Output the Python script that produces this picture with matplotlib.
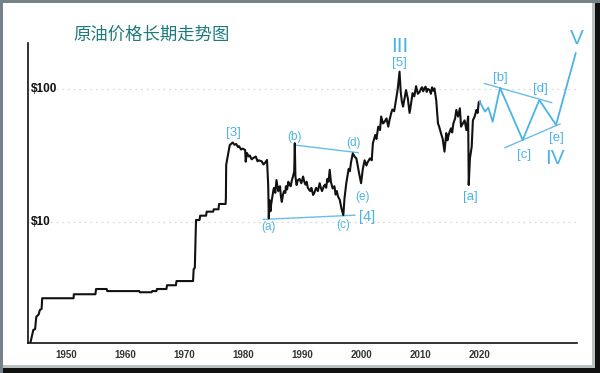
import matplotlib
matplotlib.use("Agg")
import matplotlib.pyplot as plt
from matplotlib.patches import Rectangle
import numpy as np

# ---------------- data ----------------
price_years = [1944.0, 1944.5, 1944.8, 1945.0, 1945.4, 1945.6, 1945.9, 1946.0, 1951.3, 1951.35,
               1955.0, 1955.1, 1956.9, 1957.0, 1962.4, 1962.5, 1964.5, 1964.6, 1965.3, 1965.4,
               1967.0, 1967.1, 1968.6, 1968.7, 1971.5, 1971.6, 1971.8, 1972.0, 1972.6, 1972.7,
               1973.7, 1973.8, 1974.9, 1975.0, 1975.8, 1975.9, 1977.0, 1977.05, 1977.1, 1977.7,
               1978.2, 1978.5, 1978.8, 1979.1, 1979.3, 1979.6, 1979.9, 1980.3, 1980.4, 1980.6,
               1980.9, 1981.1, 1981.4, 1981.6, 1982.1, 1982.4, 1982.6, 1983.1, 1983.4, 1983.6,
               1984.0, 1984.2, 1984.3, 1984.45, 1984.6, 1984.7, 1984.9, 1985.1, 1985.2, 1985.4,
               1985.6, 1985.9, 1986.0, 1986.2, 1986.35, 1986.5, 1986.7, 1986.9, 1987.1, 1987.2,
               1987.4, 1987.6, 1987.8, 1988.0, 1988.2, 1988.4, 1988.6, 1988.7, 1988.8, 1989.0,
               1989.2, 1989.5, 1989.8, 1990.1, 1990.3, 1990.5, 1990.7, 1990.9, 1991.1, 1991.3,
               1991.5, 1991.8, 1992.0, 1992.3, 1992.6, 1992.9, 1993.1, 1993.3, 1993.6, 1993.8,
               1994.0, 1994.2, 1994.4, 1994.6, 1994.8, 1995.1, 1995.4, 1995.6, 1995.8, 1996.0,
               1996.3, 1996.6, 1996.9, 1997.1, 1997.4, 1997.6, 1997.8, 1998.0, 1998.2, 1998.5,
               1998.8, 1999.1, 1999.3, 1999.5, 1999.9, 2000.2, 2000.5, 2000.8, 2001.0, 2001.4,
               2001.7, 2001.9, 2002.3, 2002.5, 2002.8, 2003.1, 2003.3, 2003.6, 2003.8, 2004.2,
               2004.5, 2004.7, 2005.0, 2005.2, 2005.5, 2005.8, 2006.1, 2006.4, 2006.6, 2006.8,
               2007.0, 2007.5, 2007.8, 2008.1, 2008.4, 2008.6, 2008.9, 2009.2, 2009.5, 2009.8,
               2010.0, 2010.2, 2010.4, 2010.6, 2010.8, 2011.0, 2011.2, 2011.5, 2011.7, 2011.9,
               2012.1, 2012.3, 2012.6, 2012.9, 2013.1, 2013.4, 2013.7, 2014.0, 2014.3, 2014.5,
               2014.7, 2014.9, 2015.1, 2015.3, 2015.5, 2015.8, 2016.0, 2016.3, 2016.6, 2016.8,
               2017.1, 2017.4, 2017.7, 2018.0, 2018.1, 2018.3, 2018.6, 2018.8, 2019.1, 2019.4,
               2019.6, 2019.8, 2019.95]
price_values = [1.22, 1.53, 1.55, 1.92, 2.0, 2.16, 2.2, 2.65, 2.65, 2.84,
                2.84, 3.11, 3.11, 3.0, 3.0, 2.94, 2.94, 3.0, 3.0, 3.11,
                3.11, 3.32, 3.32, 3.57, 3.57, 4.38, 4.5, 10.3, 10.3, 11.1,
                11.1, 11.9, 11.9, 12.4, 12.4, 13.6, 13.6, 15.1, 26.8, 37.8,
                39.5, 38.0, 38.5, 36.5, 37.0, 35.0, 35.5, 34.7, 28.3, 33.0,
                31.0, 31.5, 29.5, 30.0, 31.0, 28.5, 29.0, 28.5, 27.0, 27.5,
                29.2, 19.0, 10.6, 14.5, 12.0, 13.5, 15.4, 17.5, 18.0, 16.5,
                20.6, 17.0, 18.0, 18.5, 15.5, 14.1, 16.0, 17.0, 16.5, 18.5,
                17.5, 20.0, 19.0, 18.5, 20.5, 22.0, 24.0, 39.0, 22.0, 18.9,
                20.5, 21.0, 19.5, 21.9, 20.0, 19.0, 20.0, 18.0, 17.5, 17.0,
                18.0, 15.9, 16.5, 18.0, 17.0, 19.5, 18.0, 17.0, 18.5, 19.0,
                18.0, 21.0, 20.0, 24.6, 20.0, 17.8, 18.5, 16.0, 17.0, 15.5,
                14.6, 12.5, 11.2, 15.0, 19.5, 22.0, 25.0, 24.0, 28.0, 32.7,
                31.0, 30.0, 27.0, 24.0, 19.5, 25.0, 29.0, 26.5, 28.0, 30.0,
                29.0, 39.0, 45.0, 42.0, 52.0, 49.0, 62.0, 55.0, 56.0, 60.0,
                52.0, 58.0, 66.0, 70.0, 68.0, 82.6, 100.0, 135.0, 95.0, 80.0,
                73.6, 98.0, 85.0, 66.0, 80.0, 93.0, 88.0, 105.0, 92.0, 95.0,
                100.0, 103.0, 96.0, 101.0, 104.0, 95.0, 100.0, 98.0, 92.0, 103.0,
                97.0, 101.0, 82.6, 55.0, 52.0, 46.5, 42.0, 33.7, 46.5, 41.0,
                45.0, 48.0, 50.5, 47.0, 55.0, 60.0, 69.5, 62.0, 71.5, 52.0,
                55.0, 58.0, 49.0, 62.0, 18.9, 30.0, 36.7, 58.0, 62.0, 69.5,
                66.0, 80.0, 80.2]

# projected wave path
proj_years = [2019.95, 2020.85, 2021.41, 2022.15, 2023.39, 2027.22, 2030.03, 2032.85, 2036.18]
proj_values = [80.2, 67.5, 72.3, 56.7, 102.0, 41.3, 82.6, 53.6, 186.0]

# trend lines (start/end)
trend_years = [[1988.72, 1999.42], [1983.37, 1998.87], [2020.73, 2032.12], [2024.23, 2033.53]]
trend_values = [[37.8, 33.1], [10.4, 11.2], [110.0, 78.9], [36.1, 54.5]]

# wave labels
small_labels = ["[3]", "(b)", "(d)", "(e)", "(a)", "(c)", "[4]", "[5]", "[a]", "[b]", "[d]", "[c]", "[e]"]
small_years = [1978.29, 1988.72, 1998.58, 2000.17, 1984.21, 1996.89, 2000.85, 2006.36, 2018.31,
               2023.5, 2030.15, 2027.5, 2032.85]
small_values = [46.4, 43.7, 39.0, 15.4, 9.17, 9.44, 10.8, 156.0, 15.4, 122.0, 99.5, 31.8, 42.5]
small_sizes = [9.5, 8.5, 8.5, 8.5, 8.5, 8.5, 10.5, 9.5, 9.5, 9.5, 9.5, 9.5, 9.5]
big_labels = ["III", "IV", "V"]
big_years = [2006.36, 2032.68, 2036.35]
big_values = [208.0, 30.1, 241.0]

x_ticks = [1950, 1960, 1970, 1980, 1990, 2000, 2010, 2020]
y_levels = [10, 100]
y_level_labels = ["$10", "$100"]
title = "原油价格长期走势图"

# ---------------- figure ----------------
W, H = 600, 373
fig = plt.figure(figsize=(W / 100, H / 100), dpi=100)
fig.patch.set_facecolor("#738387")


def px_rect(x0, y0, x1, y1, color):
    r = Rectangle((x0 / W, 1 - y1 / H), (x1 - x0) / W, (y1 - y0) / H,
                  transform=fig.transFigure, facecolor=color, edgecolor="none", zorder=0)
    fig.add_artist(r)


px_rect(595, 3, 600, 373, "#111111")
px_rect(3, 368, 600, 373, "#111111")
px_rect(3, 3, 595, 368, "#b9c1c3")
px_rect(3, 3, 592, 365, "white")

ax = fig.add_axes([28 / W, 1 - 343 / H, 549 / W, 300 / H])
ax.set_facecolor("none")
ax.set_yscale("log")
ax.set_xlim(1943.6, 2036.4)
ax.set_ylim(1.219, 222)

for s in ["top", "right"]:
    ax.spines[s].set_visible(False)
ax.spines["left"].set_linewidth(1.2)
ax.spines["bottom"].set_linewidth(1.2)
ax.spines["left"].set_color("#111111")
ax.spines["bottom"].set_color("#111111")

ax.set_yticks([])
ax.yaxis.set_minor_locator(matplotlib.ticker.NullLocator())
ax.set_xticks(x_ticks)
ax.set_xticklabels([str(t) for t in x_ticks], fontsize=7, fontweight="bold",
                   color="#333333", family="Liberation Sans")
ax.tick_params(axis="x", length=0, pad=5)

for lv, lb in zip(y_levels, y_level_labels):
    ax.axhline(lv, color="#dadada", lw=0.9, ls=(0, (1.5, 3)), zorder=1)
    ax.text(0.006, lv, lb, transform=ax.get_yaxis_transform(), ha="left", va="center",
            fontsize=8.5, fontweight="bold", color="#111111", family="Liberation Sans")

ax.plot(price_years, price_values, color="#111111", lw=1.5, zorder=3)

blue = "#4cb3e6"
ax.plot(proj_years, proj_values, color=blue, lw=1.3, zorder=3, clip_on=False)
for ty, tv in zip(trend_years, trend_values):
    ax.plot(ty, tv, color=blue, lw=1.0, zorder=2, alpha=0.85)

for lb, yx, yv, fs in zip(small_labels, small_years, small_values, small_sizes):
    ax.text(yx, yv, lb, ha="center", va="center", fontsize=fs, color=blue,
            family="Liberation Sans", clip_on=False)
for lb, yx, yv in zip(big_labels, big_years, big_values):
    ax.text(yx, yv, lb, ha="center", va="center", fontsize=15, color=blue,
            family="Liberation Sans", clip_on=False)

fig.text(151.7 / W, 1 - 35 / H, title, ha="center", va="center", fontsize=12.5,
         color="#1d7a7c", family=["Noto Sans CJK SC", "DejaVu Sans"])

fig.savefig("out.png", dpi=100, facecolor=fig.get_facecolor())
